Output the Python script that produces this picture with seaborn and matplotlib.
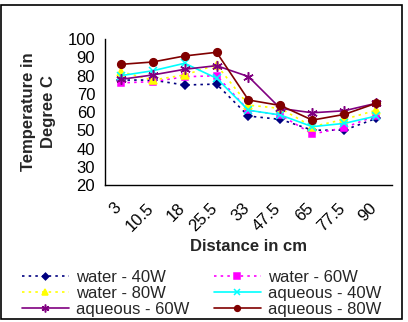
import matplotlib
matplotlib.use("Agg")
import matplotlib.pyplot as plt
import matplotlib.transforms as mtransforms
from matplotlib.patches import Rectangle
import seaborn as sns
import pandas as pd

distance = ["3", "10.5", "18", "25.5", "33", "47.5", "65", "77.5", "90"]

water_40 = [77.5, 77.5, 74.8, 75.3, 57.8, 56.0, 50.1, 50.1, 56.5]
water_60 = [76.0, 76.6, 79.3, 79.9, 61.0, 58.4, 48.0, 51.4, 58.0]
water_80 = [82.1, 77.5, 80.3, 85.8, 63.8, 62.0, 52.0, 56.0, 61.0]
aqueous_40 = [79.9, 82.6, 86.7, 78.5, 61.0, 58.4, 52.0, 53.8, 57.8]
aqueous_60 = [77.9, 80.3, 83.4, 85.4, 79.4, 62.0, 59.6, 60.7, 64.8]
aqueous_80 = [86.1, 87.4, 90.7, 92.7, 66.6, 63.6, 55.6, 58.7, 64.8]

names = ["water - 40W", "water - 60W", "water - 80W",
         "aqueous - 40W", "aqueous - 60W", "aqueous - 80W"]
values = [water_40, water_60, water_80, aqueous_40, aqueous_60, aqueous_80]
colors = ["#000080", "#FF00FF", "#FFFF00", "#00FFFF", "#800080", "#800000"]
markers = ["D", "s", "^", "x", (6, 2, 0), "o"]
sizes = [4.5, 5, 5.5, 6, 7.5, 5.5]
dotted = [True, True, True, False, False, False]

sns.set_style("white")
plt.rcParams["font.family"] = ["Liberation Sans", "DejaVu Sans"]
fs = 12

fig = plt.figure(figsize=(4.08, 3.22), dpi=100)
ax = fig.add_axes([0.257, 0.425, 0.704, 0.454])

handles = []
for name, vals, c, m, ms, dot in zip(names, values, colors, markers, sizes, dotted):
    d = pd.DataFrame({"pos": range(len(vals)), "temp": vals})
    sns.lineplot(data=d, x="pos", y="temp", color=c, marker=m, markersize=ms,
                 markeredgecolor=c, markerfacecolor=c, markeredgewidth=1.1,
                 linewidth=1.2, linestyle=(0, (1.5, 2.5)) if dot else "-",
                 label=name, legend=False, ax=ax)
    handles.append(ax.lines[-1])

ax.set_xlim(-0.5, len(distance) - 0.5)
ax.set_ylim(20, 100)
ax.set_yticks(range(20, 101, 10))
ax.set_xticks(range(len(distance)))
ax.set_xticklabels(distance, rotation=45, ha="right", rotation_mode="anchor")
ax.set_xticks([i - 0.5 for i in range(len(distance) + 1)], minor=True)
ax.tick_params(axis="x", which="major", length=0, pad=11, labelsize=fs)
ax.tick_params(axis="x", which="minor", length=4, width=1, direction="out")
ax.tick_params(axis="y", length=4, width=1, direction="out", labelsize=fs, pad=3)
shift = mtransforms.ScaledTranslation(-7 / 100, 0, fig.dpi_scale_trans)
for lab in ax.get_xticklabels():
    lab.set_transform(lab.get_transform() + shift)
for s in ["top", "right"]:
    ax.spines[s].set_visible(False)
for s in ["left", "bottom"]:
    ax.spines[s].set_color("black")
    ax.spines[s].set_linewidth(1)
ax.tick_params(colors="black")

ax.set_xlabel("Distance in cm", fontsize=fs, fontweight="bold", labelpad=4)
ax.set_ylabel("Temperature in\nDegree C", fontsize=fs, fontweight="bold",
              linespacing=1.45)
ax.yaxis.set_label_coords(-0.17, 0.5)

order = [0, 2, 4, 1, 3, 5]
fig.legend([handles[i] for i in order], [names[i] for i in order],
           ncol=2, loc="upper left", bbox_to_anchor=(0.054, 0.163),
           frameon=False, fontsize=fs, handlelength=2.8, handletextpad=0.42,
           columnspacing=1.5, labelspacing=0.08, borderpad=0, borderaxespad=0,
           markerscale=0.75)

fig.patches.append(Rectangle((0.003, 0.008), 0.982, 0.977, transform=fig.transFigure,
                             fill=False, edgecolor="black", linewidth=1.2))

fig.savefig("out.png", dpi=100)
